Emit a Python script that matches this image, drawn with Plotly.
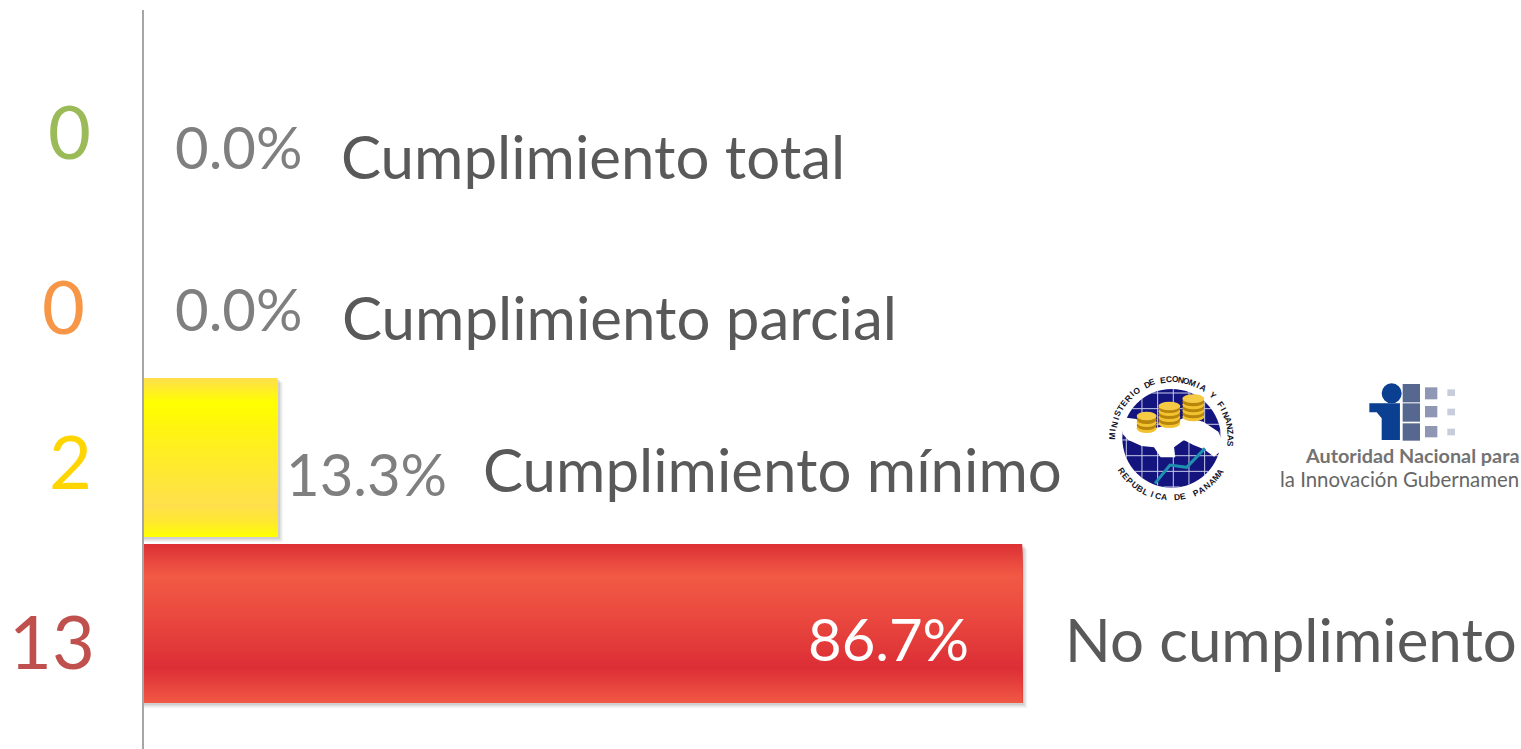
import math
import plotly.graph_objects as go

categories = ["Cumplimiento total", "Cumplimiento parcial", "Cumplimiento mínimo", "No cumplimiento"]
counts = [0, 0, 2, 13]
percents = [0.0, 0.0, 13.33, 86.67]
count_colors = ["#9BBB59", "#F79646", "#FFD500", "#C0504D"]

W, H = 1521, 749
X_SCALE = 10.15  # px per percent
BAND = 166.0
AXIS_PX = 142.5
LINE_PX = 143.2
BAR_W = 159 / BAND

yellow_stops = [(0, (255, 222, 77)), (0.155, (255, 255, 0)), (0.3, (255, 245, 15)), (0.8, (255, 224, 77)), (0.9, (255, 232, 50)), (1, (255, 255, 0))]
red_stops = [(0, (220, 48, 53)), (0.2, (242, 90, 69)), (0.5, (232, 70, 62)), (0.78, (220, 46, 54)), (1, (241, 88, 68))]


def mix(stops, t):
    for (a, ca), (b, cb) in zip(stops, stops[1:]):
        if a <= t <= b:
            f = (t - a) / (b - a)
            return "rgb(%d,%d,%d)" % tuple(round(p + (q - p) * f) for p, q in zip(ca, cb))
    return "rgb(%d,%d,%d)" % stops[-1][1]


fig = go.Figure()


def add_bar(idx, **kw):
    fig.add_trace(go.Bar(y=[categories[idx]], x=[percents[idx]], orientation="h", showlegend=False,
                         hoverinfo="skip", marker_line_width=0, **kw))


# soft shadows
for idx in (2, 3):
    for k, op in ((5, 0.07), (3.6, 0.10), (2.3, 0.14)):
        fig.add_trace(go.Bar(y=[categories[idx]], x=[percents[idx] + k / X_SCALE], orientation="h",
                             offset=-BAR_W / 2 + k / BAND, width=BAR_W, showlegend=False, hoverinfo="skip",
                             marker=dict(color="rgb(90,90,90)", opacity=op, line_width=0)))

# gradient-filled bars, painted as overlapping strips
N = 80
for idx, stops in ((2, yellow_stops), (3, red_stops)):
    for i in range(N):
        t = i / N
        add_bar(idx, offset=-BAR_W / 2 + t * BAR_W, width=BAR_W * (1 - t), marker_color=mix(stops, t + 0.5 / N))

annotations = []
FONT = "Lato, Carlito, sans-serif"
count_x = [69.5, 63.5, 70.5, 51.5]
count_y = [130, 305, 460, 640]
pct_x = [238.5, 238.5, 366, 888.5]
pct_y = [146, 308, 473, 638]
pct_col = ["#7F7F7F", "#7F7F7F", "#7F7F7F", "#FFFFFF"]
lab_x = [339, 339.5, 481, 1062.5]
lab_y = [156, 317, 469, 639]


def center(i):
    return 125.5 + BAND * i


def to_x(px):
    return (px - AXIS_PX) / X_SCALE


for i, c in enumerate(categories):
    annotations.append(dict(x=to_x(count_x[i]), y=c, xref="x", yref="y", yshift=center(i) - count_y[i],
                            text=str(counts[i]), showarrow=False, xanchor="center", yanchor="middle",
                            font=dict(family=FONT, size=74, color=count_colors[i])))
    annotations.append(dict(x=to_x(pct_x[i]), y=c, xref="x", yref="y", yshift=center(i) - pct_y[i],
                            text="%.1f%%" % percents[i], showarrow=False, xanchor="center", yanchor="middle",
                            font=dict(family=FONT, size=58, color=pct_col[i])))
    annotations.append(dict(x=to_x(lab_x[i]), y=c, xref="x", yref="y", yshift=center(i) - lab_y[i],
                            text=c, showarrow=False, xanchor="left", yanchor="middle",
                            font=dict(family=FONT, size=60, color="#595959")))


# ---- logos, drawn in page pixels ----
def px(x):
    return x / W


def py(y):
    return 1 - y / H


def zx(v):
    return 1080 + v / 3


def zy(v):
    return 360 + v / 3


shapes = []


def poly(pts, fill, line=None, width=0, close=True):
    d = "M" + " L".join("%.4f,%.4f" % (px(zx(a)), py(zy(b))) for a, b in pts) + (" Z" if close else "")
    shapes.append(dict(type="path", xref="paper", yref="paper", path=d, fillcolor=fill if close else "rgba(0,0,0,0)",
                       line=dict(color=line or fill, width=width)))


def ell(cx, cy, rx, ry, fill):
    shapes.append(dict(type="circle", xref="paper", yref="paper", x0=px(zx(cx - rx)), x1=px(zx(cx + rx)),
                       y0=py(zy(cy + ry)), y1=py(zy(cy - ry)), fillcolor=fill, line_width=0))


def rect(x0, y0, x1, y1, fill):
    shapes.append(dict(type="rect", xref="paper", yref="paper", x0=px(zx(x0)), x1=px(zx(x1)),
                       y0=py(zy(y1)), y1=py(zy(y0)), fillcolor=fill, line_width=0))


# ministry seal
cx, cy, r = 275, 235, 148
ell(cx, cy, r, r, "#14147E")
for g in range(-3, 4):
    off = g * 47 + 5
    half = math.sqrt(max(r * r - off * off, 0))
    poly([(cx + off, cy - half), (cx + off, cy + half)], "#C8CCE8", "#C8CCE8", 1, close=False)
    poly([(cx - half, cy + off), (cx + half, cy + off)], "#C8CCE8", "#C8CCE8", 1, close=False)
poly([(128, 172), (175, 178), (225, 205), (265, 195), (315, 172), (370, 185), (415, 215), (435, 262), (402, 290),
      (372, 268), (340, 255), (312, 240), (282, 262), (286, 292), (242, 292), (222, 262), (185, 258), (145, 240),
      (128, 222)], "#FFFFFF")
for sx, top, bottom, rx in ((200, 170, 205, 30), (268, 140, 190, 33), (340, 118, 170, 33)):
    y = bottom
    n = 0
    while y >= top:
        ell(sx, y, rx, 14, "#B8860B" if n % 2 else "#F2C230")
        y -= 9
        n += 1
    ell(sx, top - 2, rx, 13, "#F5CB45")
poly([(225, 370), (270, 315), (320, 322), (375, 265)], "#1E90B0", "#1E90B0", 3, close=False)


def ring(text, start, end, radius, flip):
    n = len(text)
    for i, ch in enumerate(text):
        a = math.radians(start + (end - start) * i / (n - 1))
        x = cx + radius * math.cos(a)
        y = cy - radius * math.sin(a)
        rot = 90 - math.degrees(a) if not flip else -90 - math.degrees(a)
        annotations.append(dict(x=px(zx(x)), y=py(zy(y)), xref="paper", yref="paper", text="<b>%s</b>" % ch,
                                showarrow=False, textangle=rot, xanchor="center", yanchor="middle",
                                font=dict(family="Liberation Sans", size=8.5, color="#14142A")))


ring("MINISTERIO DE ECONOMIA Y FINANZAS", 178, -5, 178, False)
ring("REPUBLICA DE PANAMA", 213, 325, 178, True)

# innovation authority mark
ell(935, 100, 30, 30, "#0B3F91")
poly([(868, 130), (960, 130), (960, 240), (905, 240), (905, 175), (890, 157), (868, 157)], "#0B3F91")
for a, b in ((72, 127), (130, 185), (190, 242)):
    rect(968, a, 1020, b, "#56688F")
for a, b in ((82, 118), (138, 172), (198, 232)):
    rect(1035, a, 1072, b, "#9097B5")
for a, b in ((88, 108), (146, 166), (206, 226)):
    rect(1102, a, 1125, b, "#C9CCDA")

annotations.append(dict(x=px(1521), y=py(455), xref="paper", yref="paper", text="<b>Autoridad Nacional para</b>",
                        showarrow=False, xanchor="right", yanchor="middle",
                        font=dict(family="Lato, sans-serif", size=19.8, color="#737373")))
annotations.append(dict(x=px(1521), y=py(479), xref="paper", yref="paper", text="la Innovación Gubernamen",
                        showarrow=False, xanchor="right", yanchor="middle",
                        font=dict(family="Lato, sans-serif", size=20.4, color="#666666")))

top_px = 10
fig.update_layout(
    width=W, height=H, margin=dict(l=0, r=0, t=0, b=0), paper_bgcolor="white", plot_bgcolor="white",
    barmode="overlay", showlegend=False, annotations=annotations, shapes=shapes,
    xaxis=dict(range=[-AXIS_PX / X_SCALE, (W - AXIS_PX) / X_SCALE], visible=False, domain=[0, 1]),
    yaxis=dict(type="category", categoryorder="array", categoryarray=categories,
               range=[(H - 125.5) / BAND, (top_px - 125.5) / BAND], domain=[0, 1 - top_px / H],
               showticklabels=False, ticks="", showgrid=False, zeroline=False, showline=True,
               linecolor="#A6A6A6", linewidth=2, anchor="free", position=LINE_PX / W),
)
fig.write_html("out.html", config={"displayModeBar": False},
               post_script="document.body.style.margin='0';document.body.style.overflow='hidden';")
